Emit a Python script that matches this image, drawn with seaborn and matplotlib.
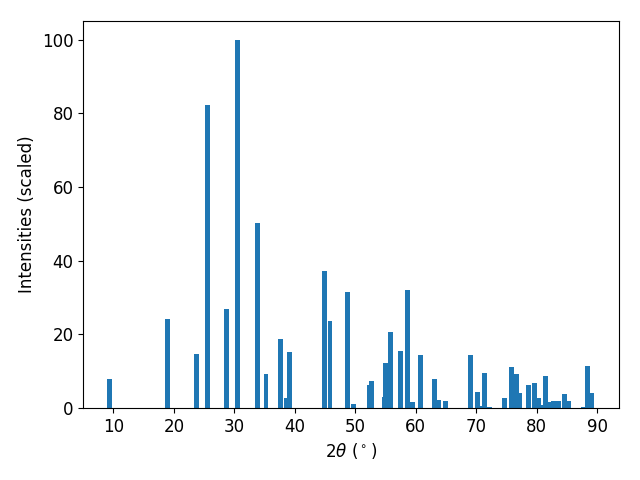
import numpy as np
import pandas as pd
import seaborn as sns
import matplotlib
matplotlib.use("Agg")
import matplotlib.pyplot as plt

# peak positions (2theta, degrees) and scaled intensities
two_theta = [9.37, 18.96, 23.75, 25.57, 28.71, 30.53, 33.83, 35.24, 37.64, 38.58,
             39.12, 44.91, 45.82, 48.71, 49.70, 52.35, 52.68, 54.83, 54.99, 55.82,
             57.47, 58.63, 59.45, 60.78, 63.09, 63.75, 64.91, 69.04, 70.21, 71.03,
             71.36, 72.18, 74.66, 75.82, 76.64, 77.14, 78.63, 79.62, 80.37, 80.86,
             81.44, 82.26, 82.84, 83.59, 84.58, 85.24, 87.72, 88.46, 89.12]
intensity = [7.8, 24.1, 14.6, 82.3, 26.8, 100.0, 50.3, 9.2, 18.6, 2.6,
             15.3, 37.3, 23.5, 31.6, 1.1, 6.3, 7.2, 3.0, 12.1, 20.5,
             15.6, 32.1, 1.5, 14.5, 7.8, 2.3, 2.0, 14.3, 4.3, 0.6,
             9.6, 0.4, 2.6, 11.0, 9.3, 4.2, 6.3, 6.9, 2.8, 0.8,
             8.8, 1.5, 1.8, 1.8, 3.9, 2.0, 0.4, 11.3, 4.0]

df = pd.DataFrame({"two_theta": two_theta, "intensity": intensity})

plt.rcParams["font.size"] = 12
fig, ax = plt.subplots(figsize=(6.4, 4.8), dpi=100)

# bars 0.8 degree wide on the native x scale
min_gap = np.diff(np.unique(df["two_theta"])).min()
sns.barplot(data=df, x="two_theta", y="intensity", native_scale=True,
            width=0.8 / min_gap, color="#1f77b4", saturation=1,
            errorbar=None, linewidth=0, ax=ax)

ax.set_xlabel(r"$2\theta$ ($^\circ$)")
ax.set_ylabel("Intensities (scaled)")
ax.set_xticks([10, 20, 30, 40, 50, 60, 70, 80, 90])
ax.set_xlim(4.99, 93.6)
ax.set_ylim(0, 105)

fig.subplots_adjust(left=0.13, right=0.967, top=0.956, bottom=0.15)
plt.savefig("out.png")
